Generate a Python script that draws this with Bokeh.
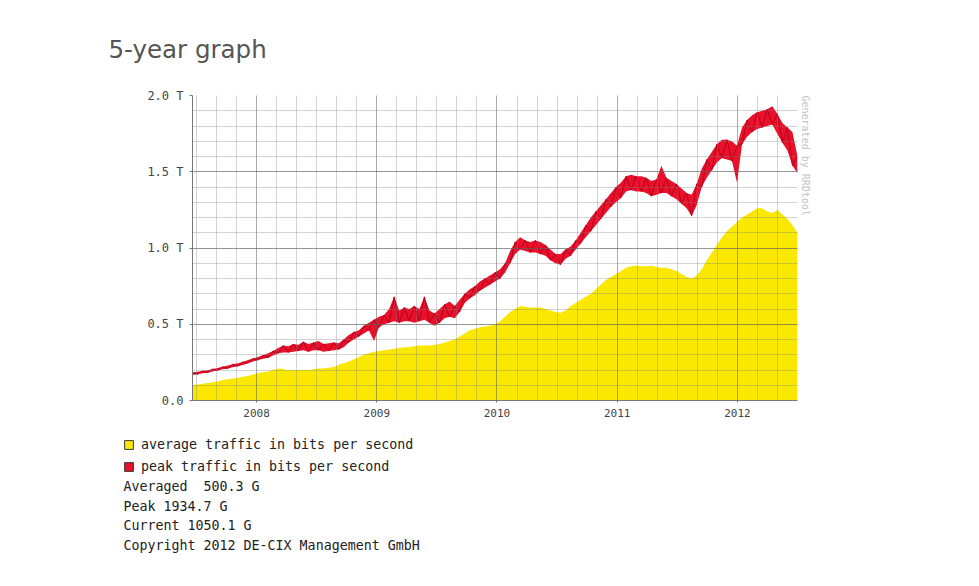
import numpy as np
from bokeh.plotting import figure
from bokeh.models import (FixedTicker, Legend, LegendItem, Title, Label, ColumnDataSource, Range1d)
from bokeh.embed import file_html
from bokeh.resources import INLINE

# ---------------- data (Tbit/s, sampled every ~half month) ----------------
t_start, t_end = 2007.467, 2012.5

avg_tbps = [
    0.100, 0.105, 0.110, 0.115, 0.120, 0.125, 0.135, 0.140, 0.145, 0.150,
    0.155, 0.160, 0.170, 0.180, 0.185, 0.190, 0.200, 0.210, 0.205, 0.200,
    0.200, 0.200, 0.200, 0.200, 0.205, 0.210, 0.210, 0.215, 0.220, 0.235,
    0.245, 0.255, 0.270, 0.285, 0.300, 0.310, 0.320, 0.325, 0.330, 0.335,
    0.340, 0.345, 0.350, 0.350, 0.355, 0.360, 0.360, 0.360, 0.365, 0.370,
    0.380, 0.390, 0.400, 0.420, 0.440, 0.460, 0.470, 0.480, 0.485, 0.490,
    0.500, 0.520, 0.550, 0.580, 0.600, 0.620, 0.615, 0.610, 0.610, 0.610,
    0.600, 0.590, 0.580, 0.575, 0.590, 0.620, 0.640, 0.660, 0.680, 0.700,
    0.730, 0.760, 0.790, 0.810, 0.830, 0.850, 0.870, 0.880, 0.885, 0.880,
    0.880, 0.885, 0.875, 0.870, 0.870, 0.860, 0.850, 0.830, 0.810, 0.800,
    0.820, 0.860, 0.920, 0.970, 1.020, 1.070, 1.110, 1.140, 1.170, 1.200,
    1.220, 1.240, 1.260, 1.260, 1.240, 1.230, 1.250, 1.220, 1.190, 1.150,
    1.100,
]

peak_hi = [
    0.183, 0.188, 0.194, 0.198, 0.206, 0.213, 0.221, 0.230, 0.238, 0.245,
    0.253, 0.265, 0.275, 0.285, 0.297, 0.310, 0.325, 0.345, 0.360, 0.355,
    0.370, 0.365, 0.385, 0.370, 0.380, 0.390, 0.370, 0.375, 0.380, 0.375,
    0.400, 0.430, 0.450, 0.460, 0.490, 0.510, 0.530, 0.550, 0.560, 0.600,
    0.680, 0.590, 0.610, 0.600, 0.620, 0.600, 0.680, 0.590, 0.570, 0.600,
    0.630, 0.650, 0.620, 0.660, 0.700, 0.730, 0.750, 0.780, 0.800, 0.820,
    0.840, 0.860, 0.900, 0.980, 1.040, 1.070, 1.050, 1.040, 1.050, 1.040,
    1.020, 0.990, 0.960, 0.960, 0.990, 1.010, 1.050, 1.100, 1.150, 1.200,
    1.240, 1.280, 1.320, 1.360, 1.400, 1.430, 1.470, 1.480, 1.470, 1.470,
    1.460, 1.440, 1.450, 1.540, 1.460, 1.440, 1.420, 1.390, 1.360, 1.350,
    1.420, 1.520, 1.580, 1.630, 1.680, 1.710, 1.710, 1.700, 1.670, 1.790,
    1.840, 1.870, 1.890, 1.900, 1.910, 1.930, 1.880, 1.820, 1.790, 1.760,
    1.600,
]

peak_lo = [
    0.167, 0.172, 0.178, 0.182, 0.190, 0.197, 0.205, 0.210, 0.218, 0.225,
    0.233, 0.245, 0.255, 0.265, 0.273, 0.280, 0.295, 0.310, 0.315, 0.315,
    0.320, 0.325, 0.330, 0.320, 0.330, 0.330, 0.320, 0.325, 0.330, 0.335,
    0.350, 0.380, 0.400, 0.420, 0.440, 0.460, 0.390, 0.480, 0.500, 0.510,
    0.520, 0.510, 0.520, 0.520, 0.510, 0.520, 0.530, 0.510, 0.490, 0.510,
    0.540, 0.550, 0.540, 0.580, 0.640, 0.670, 0.690, 0.720, 0.740, 0.760,
    0.780, 0.800, 0.840, 0.900, 0.960, 0.990, 0.980, 0.970, 0.970, 0.960,
    0.950, 0.920, 0.900, 0.890, 0.930, 0.950, 0.990, 1.030, 1.070, 1.110,
    1.150, 1.190, 1.230, 1.270, 1.300, 1.330, 1.370, 1.380, 1.370, 1.370,
    1.360, 1.340, 1.350, 1.360, 1.360, 1.340, 1.320, 1.290, 1.260, 1.210,
    1.280, 1.400, 1.460, 1.510, 1.560, 1.590, 1.580, 1.570, 1.430, 1.680,
    1.730, 1.760, 1.780, 1.790, 1.800, 1.810, 1.750, 1.690, 1.640, 1.540,
    1.490,
]

years = [2008, 2009, 2010, 2011, 2012]
y_ticks = [0.0, 0.5, 1.0, 1.5, 2.0]
y_tick_labels = ["0.0", "0.5 T", "1.0 T", "1.5 T", "2.0 T"]
series_labels = ["average traffic in bits per second", "peak traffic in bits per second"]
stats_lines = ["Averaged\u00a0\u00a0500.3 G", "Peak 1934.7 G", "Current 1050.1 G",
               "Copyright 2012 DE-CIX Management GmbH"]
title_text = "5-year graph"
watermark = "Generated by RRDtool"

# ---------------- styling ----------------
YELLOW = "#fbe800"
RED = "#e8102a"
DARK_RED = "#b8001a"
MONO = "DejaVu Sans Mono"

t = np.linspace(t_start, t_end, len(avg_tbps))
zig = [h if i % 2 == 0 else l for i, (h, l) in enumerate(zip(peak_hi, peak_lo))]
src = ColumnDataSource(dict(t=t, avg=avg_tbps, hi=peak_hi, lo=peak_lo, zig=zig,
                            zero=[0.0] * len(t)))

# ======================= main chart =======================
W, H1 = 975, 425
frame_left, frame_top, frame_w, frame_h = 192, 95, 605, 305

p = figure(width=W, height=H1, output_backend="svg", toolbar_location=None,
           x_range=Range1d(t_start, t_end), y_range=Range1d(0, 2.0),
           min_border_left=frame_left, min_border_top=frame_top,
           min_border_right=W - frame_left - frame_w,
           min_border_bottom=H1 - frame_top - frame_h)
p.outline_line_color = None
p.background_fill_color = "white"
p.border_fill_color = "white"

p.varea(x="t", y1="zero", y2="avg", source=src, fill_color=YELLOW)
p.varea(x="t", y1="lo", y2="hi", source=src, fill_color=RED)
p.line(x="t", y="zig", source=src, line_color=DARK_RED, line_width=1)

# grid drawn over the data, as RRDtool does
minor_x = [y + k / 6 for y in range(2007, 2013) for k in range(1, 6) if t_start <= y + k / 6 <= t_end]
minor_y = [k / 10 for k in range(21)]
p.xgrid.ticker = FixedTicker(ticks=years, minor_ticks=minor_x)
p.ygrid.ticker = FixedTicker(ticks=y_ticks, minor_ticks=minor_y)
for g in (p.xgrid, p.ygrid):
    g.level = "annotation"
    g.grid_line_color = "#555555"
    g.grid_line_alpha = 0.5
    g.minor_grid_line_color = "#808080"
    g.minor_grid_line_alpha = 0.35

p.xaxis.ticker = FixedTicker(ticks=years)
p.xaxis.major_label_overrides = {y: str(y) for y in years}
p.yaxis.ticker = FixedTicker(ticks=y_ticks)
p.yaxis.major_label_overrides = dict(zip(y_ticks, y_tick_labels))
for ax in (p.xaxis, p.yaxis):
    ax.axis_line_color = "#777777"
    ax.major_tick_line_color = "#777777"
    ax.minor_tick_line_color = None
    ax.major_tick_in = 0
    ax.major_label_text_font = MONO
    ax.major_label_text_color = "#444444"
p.yaxis.major_tick_out = 3
p.yaxis.major_label_standoff = 6
p.yaxis.major_label_text_font_size = "12px"
p.xaxis.major_tick_out = 2
p.xaxis.major_label_standoff = 6
p.xaxis.major_label_text_font_size = "11px"

p.add_layout(Title(text=title_text, align="left", offset=-84, standoff=64,
                   text_font="DejaVu Sans", text_font_size="24.5px", text_color="#555555",
                   text_font_style="normal"), "above")
p.add_layout(Title(text=watermark, align="left", standoff=4,
                   text_font=MONO, text_font_size="10px", text_color="#c4c4c4",
                   text_font_style="normal"), "right")

# ======================= legend / statistics block =======================
H2 = 159
q = figure(width=W, height=H2, output_backend="svg", toolbar_location=None,
           x_axis_type=None, y_axis_type=None,
           x_range=Range1d(t_start, t_end), y_range=Range1d(0, 2.0),
           min_border=0, min_border_left=0, min_border_right=0,
           min_border_top=0, min_border_bottom=0)
q.grid.visible = False
q.outline_line_color = None
q.background_fill_color = "white"
q.border_fill_color = "white"

# hidden copies of the series: they only provide the legend swatches
sw_avg = q.patch(x="t", y="avg", source=src, fill_color=YELLOW, line_color="#3a3a3a", visible=False)
sw_peak = q.patch(x="t", y="hi", source=src, fill_color=RED, line_color="#3a3a3a", visible=False)

q_top = H1  # page y of this block's top edge
FS = "13.3px"

legend = Legend(items=[LegendItem(label=series_labels[0], renderers=[sw_avg]),
                       LegendItem(label=series_labels[1], renderers=[sw_peak])],
                location=(123, H2 - (474 - q_top)), orientation="vertical",
                glyph_width=11, glyph_height=11, label_height=11, spacing=7,
                label_standoff=7, padding=0, margin=0,
                inactive_fill_alpha=0,
                border_line_color=None, background_fill_alpha=0,
                label_text_font=MONO, label_text_font_size=FS, label_text_color="#222222")
q.add_layout(legend)

for k, line in enumerate(stats_lines):
    q.add_layout(Label(x=123, y=H2 - (486 + 19.5 * k - q_top), x_units="screen", y_units="screen",
                       text=line, text_font=MONO, text_font_size=FS,
                       text_color="#222222", text_baseline="middle"))

open("out.html", "w").write(file_html([p, q], INLINE))
